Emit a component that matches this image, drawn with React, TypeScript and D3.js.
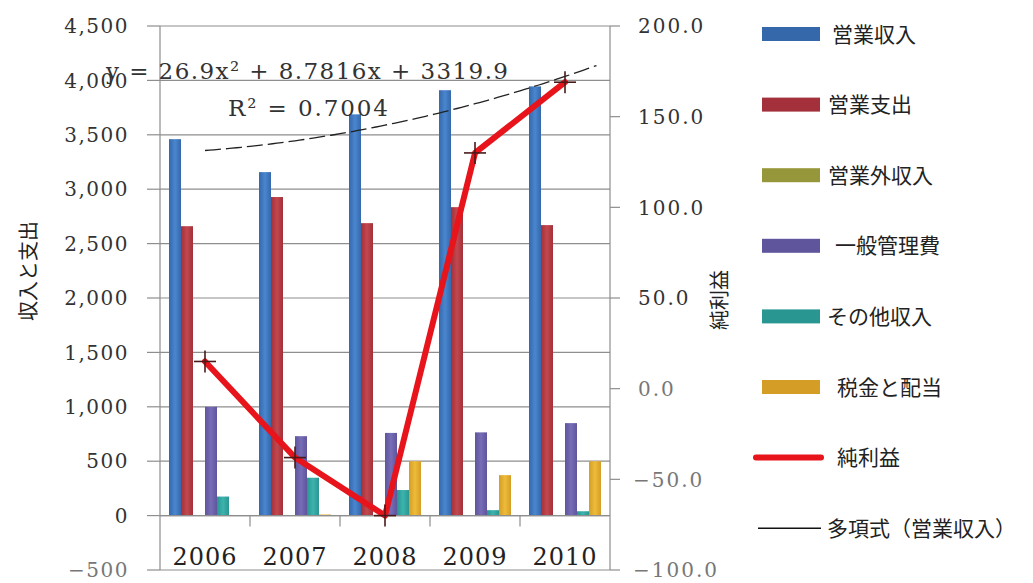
import React from 'react';
import * as d3 from 'd3';

// Fiscal years on the category axis
const years = ['2006', '2007', '2008', '2009', '2010'];

// Bar series (left axis, 収入と支出)
const opRevenue = [3460, 3157, 3688, 3910, 3945];
const opExpense = [2660, 2928, 2688, 2835, 2670];
const nonOpRevenue = [0, 0, 0, 0, 0];
const adminCost = [1000, 730, 760, 765, 850];
const otherRevenue = [175, 348, 235, 50, 40];
const taxDividend = [0, 10, 500, 372, 500];

// Line series (right axis, 純利益)
const netProfit = [15, -38, -70, 130, 169];

// Polynomial trendline of 営業収入: y = a x^2 + b x + c
const trendA = 26.9;
const trendB = 8.7816;
const trendC = 3319.9;
const trendLabel = 'y = 26.9x² + 8.7816x + 3319.9';
const r2Label = 'R² = 0.7004';

const leftTicks = [-500, 0, 500, 1000, 1500, 2000, 2500, 3000, 3500, 4000, 4500];
const rightTicks = [-100, -50, 0, 50, 100, 150, 200];

const barSeries = [
  { name: '営業収入', values: opRevenue, color: '#3568ab', light: '#4a86cf' },
  { name: '営業支出', values: opExpense, color: '#a3303a', light: '#c2484f' },
  { name: '営業外収入', values: nonOpRevenue, color: '#96973a', light: '#b0b24c' },
  { name: '一般管理費', values: adminCost, color: '#5e559c', light: '#776db8' },
  { name: 'その他収入', values: otherRevenue, color: '#2a9692', light: '#3db3ae' },
  { name: '税金と配当', values: taxDividend, color: '#d49d25', light: '#eebb3a' },
];

const legendItems = [
  ...barSeries.map((s) => ({ name: s.name, kind: 'bar', color: s.color, light: s.light })),
  { name: '純利益', kind: 'line', color: '#e8141c', light: '' },
  { name: '多項式（営業収入）', kind: 'trend', color: '#111', light: '' },
];

const SERIF = '"DejaVu Serif", "Liberation Serif", serif';
const CJK = '"Noto Sans CJK JP", "Noto Sans", sans-serif';

export default function App() {
  const W = 1033;
  const H = 583;
  const left = 160;
  const right = 610;
  const top = 26;
  const bottom = 570;

  const x = d3.scaleBand<string>().domain(years).range([left, right]).paddingInner(0).paddingOuter(0);
  const inner = d3
    .scaleBand<string>()
    .domain(barSeries.map((s) => s.name))
    .range([0, x.bandwidth()])
    .paddingInner(0)
    .paddingOuter(0.75);
  const yL = d3.scaleLinear().domain([-500, 4500]).range([bottom, top]);
  const yR = d3.scaleLinear().domain([-100, 200]).range([bottom, top]);

  const center = (i: number) => (x(years[i]) as number) + x.bandwidth() / 2;
  const xAt = (t: number) => center(0) + (t - 1) * x.bandwidth();

  const profitLine = d3
    .line<number>()
    .x((_, i) => center(i))
    .y((d) => yR(d))(netProfit) as string;

  const trendXs = d3.range(1, 5.36, 0.05);
  const trendPath = d3
    .line<number>()
    .x((t) => xAt(t))
    .y((t) => yL(trendA * t * t + trendB * t + trendC))(trendXs) as string;

  const gridColor = '#8e8e8e';
  const legendY = (i: number) => 34 + i * 70.6;

  return (
    <svg
      width={W}
      height={H}
      style={{ position: 'absolute', left: 0, top: 0, background: '#fff' }}
    >
      <defs>
        {barSeries.map((s, i) => (
          <linearGradient key={i} id={`g${i}`} x1="0" x2="1" y1="0" y2="0">
            <stop offset="0%" stopColor={s.color} />
            <stop offset="50%" stopColor={s.light} />
            <stop offset="100%" stopColor={s.color} />
          </linearGradient>
        ))}
      </defs>

      {/* horizontal gridlines */}
      {leftTicks.map((t) => (
        <line key={`g${t}`} x1={left} x2={right} y1={yL(t)} y2={yL(t)} stroke={gridColor} strokeWidth={1.2} />
      ))}

      {/* left axis */}
      <line x1={left} x2={left} y1={top} y2={bottom} stroke={gridColor} strokeWidth={1.2} />
      {leftTicks.map((t) => (
        <g key={`l${t}`}>
          <line x1={left - 13} x2={left} y1={yL(t)} y2={yL(t)} stroke={gridColor} strokeWidth={1.2} />
          <text
            x={129}
            y={yL(t)}
            dy="0.36em"
            textAnchor="end"
            fontFamily={SERIF}
            fontSize={20}
            letterSpacing={1.5}
            fill={t < 0 ? '#777' : '#333'}
          >
            {d3.format(',')(t)}
          </text>
        </g>
      ))}
      <text
        transform={`translate(29,271) rotate(-90)`}
        textAnchor="middle"
        dy="0.35em"
        fontFamily={CJK}
        fontSize={20}
        fill="#222"
      >
        収入と支出
      </text>

      {/* right axis */}
      <line x1={right} x2={right} y1={top} y2={bottom} stroke={gridColor} strokeWidth={1.2} />
      {rightTicks.map((t) => (
        <g key={`r${t}`}>
          <line x1={right} x2={right + 10} y1={yR(t)} y2={yR(t)} stroke={gridColor} strokeWidth={1.2} />
          <text
            x={t < 0 ? 633 : 638}
            y={yR(t)}
            dy="0.36em"
            textAnchor="start"
            fontFamily={SERIF}
            fontSize={20}
            letterSpacing={2}
            fill={t <= 0 ? '#777' : '#333'}
          >
            {d3.format('.1f')(t)}
          </text>
        </g>
      ))}
      <text
        transform={`translate(720,300) rotate(-90)`}
        textAnchor="middle"
        dy="0.35em"
        fontFamily={CJK}
        fontSize={20}
        fill="#222"
      >
        純利益
      </text>

      {/* bars */}
      {barSeries.map((s, si) =>
        s.values.map((v, i) => {
          const bx = (x(years[i]) as number) + (inner(s.name) as number);
          const y0 = yL(0);
          const y1 = yL(v);
          return (
            <rect
              key={`${si}-${i}`}
              x={bx}
              y={Math.min(y0, y1)}
              width={inner.bandwidth()}
              height={Math.abs(y0 - y1)}
              fill={`url(#g${si})`}
            />
          );
        })
      )}

      {/* category axis at zero */}
      <line x1={left} x2={right} y1={yL(0)} y2={yL(0)} stroke={gridColor} strokeWidth={1.2} />
      {years.slice(1).map((yr) => (
        <line
          key={`t${yr}`}
          x1={x(yr) as number}
          x2={x(yr) as number}
          y1={yL(0)}
          y2={yL(0) + 11}
          stroke={gridColor}
          strokeWidth={1.2}
        />
      ))}
      {years.map((yr, i) => (
        <text
          key={`c${yr}`}
          x={center(i)}
          y={565}
          textAnchor="middle"
          fontFamily={SERIF}
          fontSize={24}
          letterSpacing={1}
          fill="#222"
        >
          {yr}
        </text>
      ))}

      {/* trendline */}
      <path d={trendPath} fill="none" stroke="#222" strokeWidth={1.3} strokeDasharray="16,5" />

      {/* net profit line */}
      <path d={profitLine} fill="none" stroke="#e8141c" strokeWidth={6} strokeLinejoin="round" strokeLinecap="round" />
      {netProfit.map((v, i) => (
        <g key={`m${i}`} stroke="#4a1a1a" strokeWidth={1.6}>
          <line x1={center(i) - 11} x2={center(i) + 11} y1={yR(v)} y2={yR(v)} />
          <line x1={center(i)} x2={center(i)} y1={yR(v) - 11} y2={yR(v) + 11} />
        </g>
      ))}

      {/* trendline equation */}
      <text x={106} y={79} fontFamily={SERIF} fontSize={23} fill="#333" textLength={402} lengthAdjust="spacing">
        {trendLabel}
      </text>
      <text x={228} y={116} fontFamily={SERIF} fontSize={23} fill="#333" textLength={160} lengthAdjust="spacing">
        {r2Label}
      </text>

      {/* legend */}
      {legendItems.map((it, i) => {
        const cy = legendY(i);
        let mark;
        if (it.kind === 'bar') {
          mark = <rect x={762} y={cy - 7} width={58} height={14} fill={it.color} />;
        } else if (it.kind === 'line') {
          mark = <line x1={756} x2={821} y1={cy} y2={cy} stroke={it.color} strokeWidth={6} strokeLinecap="round" />;
        } else {
          mark = <line x1={758} x2={821} y1={cy} y2={cy} stroke={it.color} strokeWidth={1.5} />;
        }
        const tx = [832, 828, 828, 835, 827, 837, 837, 827][i];
        return (
          <g key={`lg${i}`}>
            {mark}
            <text x={tx} y={cy} dy="0.36em" fontFamily={CJK} fontSize={21} fill="#222">
              {it.name}
            </text>
          </g>
        );
      })}
    </svg>
  );
}
